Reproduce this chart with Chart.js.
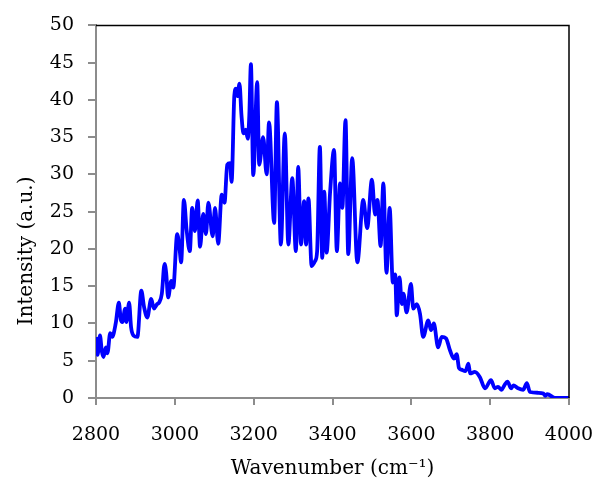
<!DOCTYPE html>
<html>
<head>
<meta charset="utf-8">
<script src="https://cdn.jsdelivr.net/npm/chart.js@4.4.0/dist/chart.umd.min.js"></script>
<style>
  html, body { margin: 0; padding: 0; background: #fff; }
  #wrap { width: 595px; height: 481px; }
</style>
</head>
<body>
<div id="wrap"><canvas id="spectrum"></canvas></div>
<script>
// values
const wavenumbers = [
  2800, 2804, 2810, 2815, 2819, 2825, 2829, 2836, 2841, 2850,
  2858, 2863, 2867, 2874, 2877, 2884, 2889, 2895, 2905, 2915,
  2922, 2930, 2940, 2947, 2955, 2960, 2967, 2974, 2978, 2983,
  2991, 2996, 3006, 3012, 3016, 3023, 3030, 3038, 3044, 3051,
  3058, 3064, 3072, 3079, 3085, 3096, 3102, 3110, 3119, 3126,
  3133, 3140, 3144, 3151, 3155, 3159, 3164, 3169, 3174, 3180,
  3185, 3189, 3193, 3199, 3209, 3214, 3224, 3233, 3239, 3252,
  3259, 3269, 3279, 3288, 3298, 3307, 3313, 3320, 3328, 3333,
  3339, 3347, 3356, 3361, 3368, 3374, 3379, 3385, 3394, 3404,
  3411, 3419, 3425, 3433, 3440, 3450, 3463, 3478, 3488, 3500,
  3508, 3514, 3522, 3529, 3537, 3545, 3553, 3559, 3563, 3570,
  3576, 3580, 3588, 3599, 3605, 3614, 3622, 3630, 3643, 3650,
  3657, 3668, 3677, 3688, 3698, 3708, 3715, 3721, 3727, 3737,
  3745, 3749, 3761, 3774, 3787, 3802, 3812, 3820, 3829, 3836,
  3844, 3853, 3859, 3871, 3884, 3893, 3901, 3922, 3935, 3940,
  3945, 3965, 4000
];
const intensity = [
  8.2, 5.8, 8.4, 6.2, 5.5, 6.8, 6.0, 8.7, 8.2, 10.0,
  12.8, 10.5, 10.2, 12.0, 10.2, 12.8, 9.5, 8.4, 8.2, 14.4,
  12.2, 10.8, 13.3, 12.0, 12.6, 12.8, 14.0, 18.0, 16.8, 13.5,
  15.7, 14.8, 22.0, 20.0, 18.2, 26.6, 22.5, 19.7, 25.5, 22.4,
  26.5, 20.3, 24.7, 22.0, 26.2, 21.7, 25.5, 20.7, 27.3, 26.2,
  31.3, 31.5, 29.0, 40.6, 41.5, 40.5, 42.2, 38.0, 35.5, 36.0,
  34.8, 38.0, 44.8, 29.9, 42.4, 31.3, 35.0, 30.0, 37.0, 23.5,
  39.7, 20.6, 35.5, 20.6, 29.5, 19.7, 31.0, 20.6, 26.4, 20.6,
  26.8, 17.7, 18.4, 19.7, 33.7, 18.8, 27.7, 19.5, 27.7, 33.3,
  19.7, 28.8, 25.5, 37.3, 19.3, 32.2, 18.2, 26.6, 22.8, 29.3,
  24.6, 26.6, 20.4, 28.8, 16.8, 25.5, 15.5, 16.6, 11.1, 16.2,
  12.6, 14.0, 11.5, 15.3, 12.0, 12.6, 11.3, 8.2, 10.4, 9.1,
  10.0, 6.8, 8.2, 8.0, 6.4, 5.3, 5.9, 4.0, 3.8, 3.6,
  4.6, 3.3, 3.5, 2.8, 1.3, 2.4, 1.3, 1.5, 1.1, 1.7,
  2.2, 1.3, 1.7, 1.3, 1.1, 2.0, 0.8, 0.7, 0.6, 0.3,
  0.5, 0.0, 0.0
];
const xTicks = [2800, 3000, 3200, 3400, 3600, 3800, 4000];
const yTicks = [0, 5, 10, 15, 20, 25, 30, 35, 40, 45, 50];
const yTitle = "Intensity (a.u.)";

const points = wavenumbers.map((w, i) => ({ x: w, y: intensity[i] }));
const serif = "'DejaVu Serif', serif";
const axisGrey = "#8c8c8c";

// black frame on top and right, and the y title placed a bit low like the original
const frameLines = {
  id: "frameLines",
  afterDraw(chart) {
    const a = chart.chartArea;
    const ctx = chart.ctx;
    ctx.save();
    ctx.strokeStyle = "#000";
    ctx.lineWidth = 1.5;
    ctx.beginPath();
    ctx.moveTo(a.left, a.top);
    ctx.lineTo(a.right, a.top);
    ctx.lineTo(a.right, a.bottom);
    ctx.stroke();

    ctx.translate(27, 251);
    ctx.rotate(-Math.PI / 2);
    ctx.fillStyle = "#000";
    ctx.font = "20px " + serif;
    ctx.textAlign = "center";
    ctx.textBaseline = "middle";
    ctx.fillText(yTitle, 0, 0);
    ctx.restore();
  }
};

new Chart(document.getElementById("spectrum"), {
  type: "line",
  data: {
    datasets: [{
      data: points,
      borderColor: "#0000ff",
      borderWidth: 3.8,
      pointRadius: 0,
      fill: false,
      cubicInterpolationMode: "monotone"
    }]
  },
  options: {
    responsive: true,
    maintainAspectRatio: false,
    animation: false,
    layout: { padding: { top: 23, right: 26, left: 0, bottom: 0 } },
    plugins: { legend: { display: false }, tooltip: { enabled: false } },
    scales: {
      x: {
        type: "linear",
        min: 2800,
        max: 4000,
        afterBuildTicks: axis => { axis.ticks = xTicks.map(v => ({ value: v })); },
        afterFit: axis => { axis.height = 83; axis.paddingRight = 0; axis.paddingLeft = 0; },
        border: { color: axisGrey, width: 2 },
        grid: { drawOnChartArea: false, drawTicks: true, tickLength: 7, color: axisGrey, lineWidth: 2 },
        ticks: { color: "#000", padding: 19, font: { family: serif, size: 19 }, maxRotation: 0, callback: v => String(v) },
        title: { display: true, text: "Wavenumber (cm⁻¹)", color: "#000", padding: { top: 0, bottom: 0 }, font: { family: serif, size: 20 } }
      },
      y: {
        min: 0,
        max: 50,
        afterBuildTicks: axis => { axis.ticks = yTicks.map(v => ({ value: v })); },
        afterFit: axis => { axis.width = 96; },
        border: { color: axisGrey, width: 2 },
        grid: { drawOnChartArea: false, drawTicks: true, tickLength: 8, color: axisGrey, lineWidth: 2 },
        ticks: { color: "#000", padding: 14, font: { family: serif, size: 19 } },
        title: { display: false }
      }
    }
  },
  plugins: [frameLines]
});
</script>
</body>
</html>
